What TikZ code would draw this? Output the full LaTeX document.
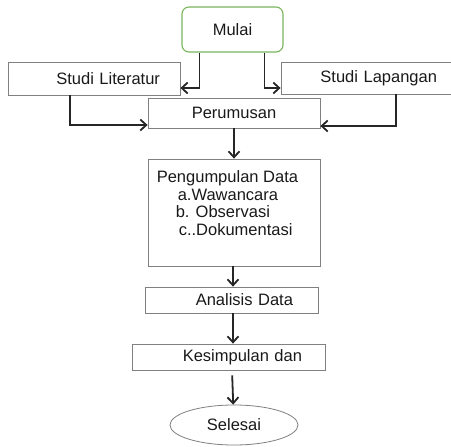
\documentclass[tikz,border=0pt]{standalone}
\usepackage{fontspec}
\setmainfont{Liberation Sans}
\usetikzlibrary{arrows.meta, positioning, shapes.geometric, calc}
\definecolor{mulaigreen}{RGB}{120,180,90}
\tikzset{
        x=1pt, y=-1pt,
        panah/.style={-{Straight Barb[length=6pt,width=11pt]}, line width=1.8pt, black!85}, % connectors
        kotak/.style={
		draw=gray,
		line width=0.8pt,
		rectangle,
		inner ysep=0pt,
		minimum width={#1},
	  },
        kotak/.default=172,
        teks/.style={
    	font=\fontsize{16.5}{17.5}\selectfont,
    	text=black!90,
      }
  	}

\begin{document}
\begin{tikzpicture}[every node/.style={teks}]
    \useasboundingbox (0,0) rectangle (451,447);
    \node [draw=mulaigreen, line width=1.1pt, rounded corners=7pt, minimum width=101, minimum height=45] (mulai) at (232.5,29.5) {Mulai};
    \node [kotak=172, minimum height=33, text width=132, inner xsep=20, align=right] (literatur) at (94,78.5) {Studi Literatur};
    \node [kotak=170, minimum height=32, text width=142, inner xsep=14, align=right] (lapangan) at (366,78) {Studi Lapangan};
    \node [kotak, minimum height=30] (perumusan) at (234,113) {Perumusan};
    \node [kotak, minimum height=107] (pengumpulan) at (234,212.5) {};
    \node [anchor=north west, inner sep=0pt, align=left] (isi) at ($(pengumpulan.north west)+(9,12)$)
      {Pengumpulan Data\\ \hspace*{21pt}a.Wawancara\\ \hspace*{19pt}b. Observasi\\ \hspace*{22pt}c..Dokumentasi};
    \node [kotak=173, minimum height=26, text width=123, inner xsep=25, align=right] (analisis) at (231.5,300) {Analisis Data};
    \node [kotak=193, minimum height=26, text width=147, inner xsep=23, align=right] (kesimpulan) at (228.5,357) {Kesimpulan dan};
    \node [ellipse, draw=gray, line width=0.8pt, minimum width=128, minimum height=40, inner sep=0pt] (selesai) at (234,425) {Selesai};

    \draw [panah] ($(mulai.south west)+(18,0)$) |- ([yshift=-9.5pt]literatur.east);
    \draw [panah] ($(mulai.south east)+(-19,0)$) |- ([yshift=-10pt]lapangan.west);
    \draw [panah] ($(literatur.south west)+(62,0)$) |- ([yshift=-12pt]perumusan.west);
    \draw [panah] ($(lapangan.south west)+(115,0)$) |- ([yshift=-13pt]perumusan.east);
    \draw [panah] (perumusan) -- (pengumpulan);
    \draw [panah] ([xshift=-1pt]pengumpulan.south) -- ([xshift=-1pt]pengumpulan.south |- analisis.north);
    \draw [panah] ([xshift=1.5pt]analisis.south) -- ([xshift=1.5pt]analisis.south |- kesimpulan.north);
    \draw [panah, shorten <=5pt] ([xshift=3.5pt]kesimpulan.south) -- (selesai);
  \end{tikzpicture}
\end{document}
